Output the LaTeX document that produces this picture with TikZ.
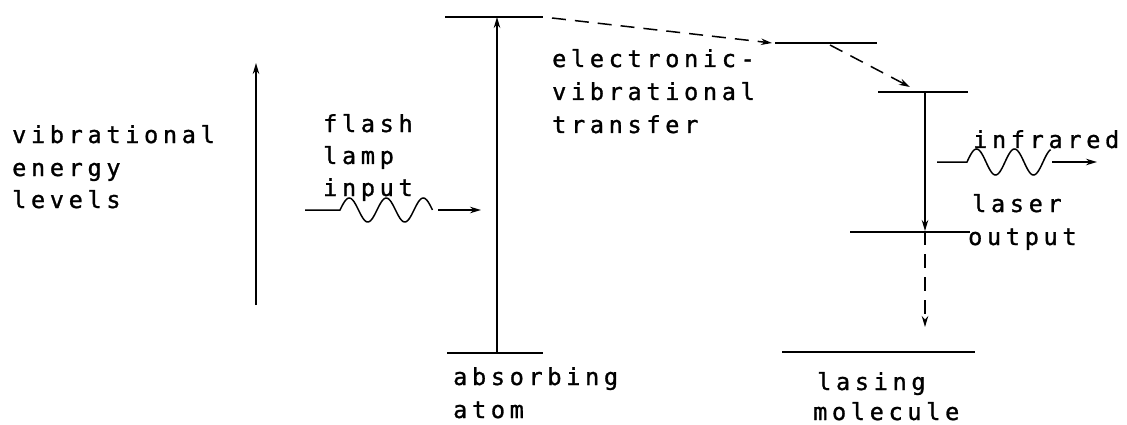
\documentclass[tikz,border=0pt]{standalone}
\usepackage{fontspec}
\usetikzlibrary{arrows.meta}
\newfontfamily\tw{DejaVu Sans Mono}[LetterSpace=20,FakeBold=1.2]
\tikzset{
  lbl/.style={anchor=base west, inner sep=0pt, font=\tw\fontsize{23.5}{28}\selectfont},
  lvl/.style={line width=1.8pt},
  arr/.style={line width=1.5pt, -{Stealth[length=11pt,width=6.5pt]}},
  dsh/.style={line width=1.5pt, dash pattern=on 14pt off 9pt, -{Stealth[length=11pt,width=6.5pt]}},
  wav/.style={line width=1.5pt},
}
\begin{document}
\begin{tikzpicture}[x=1pt,y=-1pt]
\useasboundingbox (0,0) rectangle (1127,425);
% coordinates
\coordinate (L1) at (256,305); \coordinate (L2) at (256,63);
\coordinate (Atl) at (445,17); \coordinate (Atr) at (543,17);
\coordinate (Abl) at (447,353); \coordinate (Abr) at (543,353);
\coordinate (At) at (497,17); \coordinate (Ab) at (497,353);
\coordinate (Ml) at (775,43); \coordinate (Mr) at (877,43);
\coordinate (Ul) at (878,92); \coordinate (Ur) at (968,92);
\coordinate (Ll) at (850,232); \coordinate (Lr) at (970,232);
\coordinate (Bl) at (782,352); \coordinate (Br) at (975,352);
\coordinate (D1s) at (552,18); \coordinate (D1e) at (772,43);
\coordinate (D2s) at (830,45); \coordinate (D2e) at (910,87);
\coordinate (Rt) at (925,92); \coordinate (Rm) at (925,231);
\coordinate (Rd) at (925,327);
\coordinate (F0) at (305,210); \coordinate (F1) at (340,210);
\coordinate (F2) at (438,210); \coordinate (F3) at (481,210);
\coordinate (I0) at (937,162); \coordinate (I1) at (967,162);
\coordinate (I3) at (1052,162); \coordinate (I2) at (1097,162);
% left axis
\draw[arr] (L1) -- (L2);
% levels
\draw[lvl] (Atl) -- (Atr);
\draw[lvl] (Abl) -- (Abr);
\draw[lvl] (Ml) -- (Mr);
\draw[lvl] (Ul) -- (Ur);
\draw[lvl] (Ll) -- (Lr);
\draw[lvl] (Bl) -- (Br);
% transitions
\draw[arr] (Ab) -- (At);
\draw[dsh] (D1s) -- (D1e);
\draw[dsh] (D2s) -- (D2e);
\draw[arr] (Rt) -- (Rm);
\draw[dsh] (Rm) -- (Rd);
% flash wave
\draw[wav] (F0) -- (F1) -- plot[domain=0:2.5, samples=80] ({340+\x*37},{210-12*sin(\x*360)});
\draw[arr] (F2) -- (F3);
% infrared wave
\draw[wav] (I0) -- (I1) -- plot[domain=0:2.2, samples=80] ({967+\x*38},{162-13*sin(\x*360)});
\draw[arr] (I3) -- (I2);
% texts
\node[lbl] (t1) at (12,143) {vibrational};
\node[lbl] (t2) at (12,176) {energy};
\node[lbl] (t3) at (12,208) {levels};
\node[lbl] (f1) at (323,132) {flash};
\node[lbl] (f2) at (323,164) {lamp};
\node[lbl] (f3) at (323,196) {input};
\node[lbl] (e1) at (552,67) {electronic-};
\node[lbl] (e2) at (552,100) {vibrational};
\node[lbl] (e3) at (552,133) {transfer};
\node[lbl] (a1) at (453,385) {absorbing};
\node[lbl] (a2) at (453,418) {atom};
\node[lbl] (m1) at (817,390) {lasing};
\node[lbl] (m2) at (813,420) {molecule};
\node[lbl] (i1) at (973,148) {infrared};
\node[lbl] (o1) at (972,212) {laser};
\node[lbl] (o2) at (968,245) {output};
\end{tikzpicture}
\end{document}
